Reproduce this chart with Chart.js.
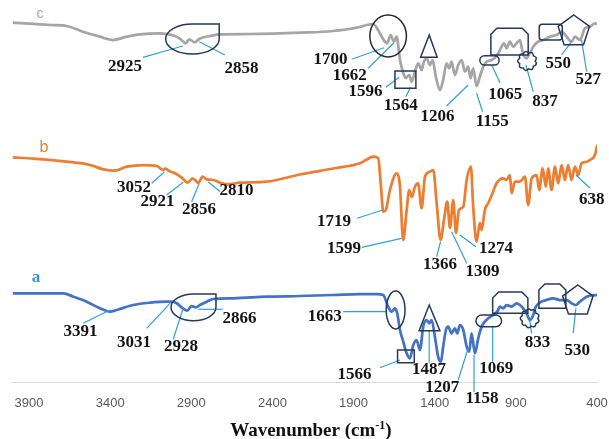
<!DOCTYPE html>
<html>
<head>
<meta charset="utf-8">
<script src="https://cdn.jsdelivr.net/npm/chart.js@4.4.1/dist/chart.umd.min.js"></script>
<style>
  html, body { margin: 0; padding: 0; background: #ffffff; overflow: hidden; }
  #wrap { width: 609px; height: 439px; }
</style>
</head>
<body>
<div id="wrap"><canvas id="ftir" width="609" height="439"></canvas></div>
<script>
// FTIR spectra of samples a, b and c (stacked, transmittance offset in a.u.)
const wavenumberTicks = [3900, 3400, 2900, 2400, 1900, 1400, 900, 400];

// trace c (grey, top)
const wnC = [4000,3771,3668,3568,3463,3381,3298,3216,3093,3052,2990,2964,2935,2913,2880,2847,2785,2723,2538,2227,2027,1861,1820,1779,1738,1717,1693,1672,1651,1635,1614,1594,1578,1557,1542,1522,1502,1481,1467,1450,1430,1413,1393,1368,1348,1327,1311,1296,1276,1255,1234,1214,1194,1179,1163,1142,1122,1101,1080,1049,1019,998,973,957,937,916,896,875,859,838,814,793,763,732,690,649,618,587,557,536,505,474,443,412,400];
const tC = [359.3,357,356,350.3,345.3,342,345.3,347.7,348.7,348,345.3,342.5,338.7,342.7,339.7,343.5,346,347.7,348,349.3,351,355,357,358,348.7,342.7,338.7,347,340.3,345.3,322,309,304,307,300.3,310.3,318.7,312,320.3,323.7,317,322,305.3,292,302,318.7,313.7,320.3,307,317,322,310.3,315.3,303.7,313.7,296,305.3,315.3,320.3,322,326,332,338.7,333.7,340.3,335.3,338.7,342,330.3,323.7,328.7,335.3,340.3,342,345.3,347,350.3,345.3,340.3,345.3,342,353.7,355.3,358.7,358];

// trace b (orange, middle)
const wnB = [4000,3874,3668,3524,3442,3370,3298,3196,3113,3073,3059,3042,3001,2959,2922,2892,2857,2830,2805,2765,2713,2672,2600,2436,2231,2025,1861,1824,1779,1748,1732,1717,1701,1676,1635,1615,1594,1573,1557,1541,1522,1502,1481,1460,1430,1409,1388,1364,1343,1323,1306,1286,1269,1251,1224,1203,1177,1163,1142,1122,1111,1091,1070,1048,1019,978,957,937,926,906,875,844,824,803,772,756,735,715,701,680,659,639,618,598,578,557,536,516,495,468,444,413,400];
const tB = [224.7,223.3,220.3,217,212.7,211.3,215.3,217,216,212,213.5,211.5,208.7,204.3,199.3,203.7,199.3,205.3,202.7,202,198.7,197.7,199.3,200.3,207.5,213.5,218.7,222,225.3,223.7,197,170.3,172,192,208.7,197,142,172,192,185,195.3,198.7,173.7,205.3,210.3,212,178.7,142,162,180.3,154,182,149,172,175.3,202,215.3,175.3,140.3,159,152,172,179,187,198.7,203.7,202,207,188.7,200.3,200.3,205.3,177,203.7,207,192,213.7,195.3,213.7,192,215.3,198.7,217,202,217,202,215.3,207,218.7,220,222,227,236];

// trace a (blue, bottom)
const wnA = [4000,3874,3689,3627,3545,3463,3401,3360,3258,3155,3052,3021,2990,2953,2925,2898,2871,2847,2805,2765,2641,2436,2231,2025,1861,1758,1717,1687,1666,1645,1631,1614,1594,1573,1553,1532,1512,1491,1471,1450,1434,1419,1399,1379,1362,1348,1331,1317,1296,1276,1261,1245,1224,1203,1187,1173,1152,1132,1111,1091,1070,1040,1015,998,978,957,926,896,875,855,834,814,797,777,742,711,670,629,587,557,530,506,464,424,400];
const tA = [88.7,88.7,88.7,85.3,80.3,73.7,70.3,72,77,79.3,80.3,80.3,78.7,73.7,71.3,76,74.7,77,80.3,83,83.7,85.3,86,87,88,88,87,75.3,70.3,73.7,68.7,52,40.3,28.7,23.7,37,42,32,55.3,62,58.7,62,45.3,25.3,20.3,35.3,52,55.3,48.7,53.7,48.7,57,52,35.3,30.3,48.7,28.7,43.7,55.3,60.3,63.7,67,70.3,75.3,73.7,77,75.3,78.7,77,73.7,68.7,62,65.3,75.3,80.3,82,83.7,82,82,78.7,77,80.3,85.3,87,87];

// assigned band positions (cm-1) for each trace
const peaksC = ['2925','2858','1700','1662','1596','1564','1206','1155','1065','837','550','527'];
const peaksB = ['3052','2921','2856','2810','1719','1599','1366','1309','1274','638'];
const peaksA = ['3391','3031','2928','2866','1663','1566','1487','1207','1158','1069','833','530'];

// where each band label sits, and its leader line (wavenumber, offset units)
const layoutC = [
  {at:[3309,315],   from:[3198,324.7], to:[2953,336]},
  {at:[2590,313.3], from:[2693,327],   to:[2851,340.3]},
  {at:[2043,322],   from:[1912,322.7], to:[1713,334.3]},
  {at:[1923,306],   from:[1810,313.7], to:[1651,339.3]},
  {at:[1826,290],   from:[1701,294.7], to:[1619,304.7]},
  {at:[1610,276],   from:[1578,285.3], to:[1549,294.7]},
  {at:[1383,265],   from:[1327,276],   to:[1194,297]},
  {at:[1045,260],   from:[1105,270.3], to:[1142,288.7]},
  {at:[965,287],    from:[998,299.3],  to:[1049,317]},
  {at:[721,280],    from:[793,290.3],  to:[838,317]},
  {at:[639,318],    from:[618,327],    to:[557,340.3]},
  {at:[454,302],    from:[464,310.3],  to:[495,342]}
];
const layoutB = [
  {at:[3253,194.5], from:[3144,198.7], to:[3068,209.7]},
  {at:[3109,180],   from:[3052,187],   to:[2950,199.7]},
  {at:[2853,172],   from:[2898,180.3], to:[2851,198.7]},
  {at:[2621,191],   from:[2723,190.3], to:[2796,200.3]},
  {at:[2021,160.3], from:[1878,163.7], to:[1721,172]},
  {at:[1959,133.7], from:[1850,134.7], to:[1604,143.7]},
  {at:[1368,117],   from:[1388,125.3], to:[1364,140.3]},
  {at:[1106,110.5], from:[1203,118.7], to:[1296,150.3]},
  {at:[1023,133.7], from:[1146,135.3], to:[1245,147]},
  {at:[432,182],    from:[444,194],    to:[530,207]}
];
const layoutA = [
  {at:[3583,50.3],  from:[3566,58.7],  to:[3401,72]},
  {at:[3253,39],    from:[3175,53.7],  to:[3021,80.3]},
  {at:[2964,35],    from:[3011,42.7],  to:[2953,72.7]},
  {at:[2603,63.7],  from:[2707,72.7],  to:[2857,72.7]},
  {at:[2077,65.3],  from:[1964,70.3],  to:[1693,70.3]},
  {at:[1894,7],     from:[1738,14.3],  to:[1614,22]},
  {at:[1436,12],    from:[1434,18.7],  to:[1434,51.3]},
  {at:[1353,-6],    from:[1255,2],     to:[1194,33.7]},
  {at:[1109,-17],   from:[1158,-10],   to:[1158,27]},
  {at:[1021,13.7],  from:[1043,20.3],  to:[1043,55.3]},
  {at:[767,39.5],   from:[803,48.7],   to:[814,62]},
  {at:[521,31],     from:[547,48.7],   to:[530,73.7]}
];

// outline markers grouping bands
const markersC = [
  {kind:'tear', x:[3058,2728], y:[358,328]},
  {kind:'ellipse', x:1687, y:346, rx:18.3, ry:21, stroke:'#2a2a2a'},
  {kind:'rect', x:[1645,1516], y:[311,293.7]},
  {kind:'triangle', pts:[[1434,347],[1487,324.7],[1385,324.7]]},
  {kind:'pill', x:[1122,1003], y:[326.3,317]},
  {kind:'chamfer', x:[1054,824], y:[353.7,327]},
  {kind:'cloud', x:830, y:321, r:8},
  {kind:'round', x:[756,614], y:[357.7,342]},
  {kind:'pentagon', x:543, y:350.5, r:16.5}
];
const markersA = [
  {kind:'tear', x:[3025,2748], y:[88,61.3]},
  {kind:'ellipse', x:1641, y:72, rx:9.4, ry:19},
  {kind:'rect', x:[1629,1526], y:[32,19.3]},
  {kind:'triangle', pts:[[1434,77],[1496,51.3],[1368,51.3]]},
  {kind:'pill', x:[1146,988], y:[67,55.3]},
  {kind:'chamfer', x:[1043,826], y:[90,68.7]},
  {kind:'cloud', x:814, y:63.7, r:8},
  {kind:'chamfer', x:[758,592], y:[98,73.7]},
  {kind:'pentagon', x:518, y:81, r:16}
];

const traceTags = [
  {text:'c', at:[3832,367.5], color:'#a5a5a5', font:'14px "Liberation Sans"'},
  {text:'b', at:[3808,234.5], color:'#ed7d31', font:'16px "Liberation Sans"'},
  {text:'a', at:[3857,104],   color:'#2f95dc', font:'bold 17px "Liberation Serif"'}
];

const zip = (xs, ys) => xs.map((x, i) => ({x: x, y: ys[i]}));

const NAVY = '#26385c';
const LEADER = '#2ea1da';

const bandAnnotations = {
  id: 'bandAnnotations',
  afterDatasetsDraw(chart) {
    const ctx = chart.ctx;
    const sx = chart.scales.x, sy = chart.scales.y;
    const X = w => sx.getPixelForValue(w);
    const Y = v => sy.getPixelForValue(v);
    ctx.save();

    // leader lines
    ctx.strokeStyle = LEADER;
    ctx.lineWidth = 1.2;
    [layoutC, layoutB, layoutA].forEach(list => list.forEach(l => {
      ctx.beginPath();
      ctx.moveTo(X(l.from[0]), Y(l.from[1]));
      ctx.lineTo(X(l.to[0]), Y(l.to[1]));
      ctx.stroke();
    }));

    // outline markers
    const drawMarker = m => {
      ctx.strokeStyle = m.stroke || NAVY;
      ctx.lineWidth = 1.5;
      ctx.beginPath();
      if (m.kind === 'rect' || m.kind === 'round' || m.kind === 'pill' || m.kind === 'chamfer' || m.kind === 'tear') {
        const x0 = X(m.x[0]), x1 = X(m.x[1]), y0 = Y(m.y[0]), y1 = Y(m.y[1]);
        const w = x1 - x0, h = y1 - y0;
        if (m.kind === 'rect') {
          ctx.rect(x0, y0, w, h);
        } else if (m.kind === 'round') {
          ctx.roundRect(x0, y0, w, h, 3);
        } else if (m.kind === 'pill') {
          ctx.roundRect(x0, y0, w, h, h / 2);
        } else if (m.kind === 'chamfer') {
          const c = 6;
          ctx.moveTo(x0, y1);
          ctx.lineTo(x0, y0 + c);
          ctx.lineTo(x0 + c, y0);
          ctx.lineTo(x1 - c, y0);
          ctx.lineTo(x1, y0 + c);
          ctx.lineTo(x1, y1);
          ctx.closePath();
        } else {
          const cx = (x0 + x1) / 2, cy = (y0 + y1) / 2;
          ctx.moveTo(cx, y0);
          ctx.lineTo(x1, y0);
          ctx.lineTo(x1, cy);
          ctx.ellipse(cx, cy, w / 2, h / 2, 0, 0, Math.PI * 1.5);
          ctx.closePath();
        }
      } else if (m.kind === 'ellipse') {
        ctx.ellipse(X(m.x), Y(m.y), m.rx, m.ry, 0, 0, Math.PI * 2);
      } else if (m.kind === 'triangle') {
        m.pts.forEach((p, i) => i ? ctx.lineTo(X(p[0]), Y(p[1])) : ctx.moveTo(X(p[0]), Y(p[1])));
        ctx.closePath();
      } else if (m.kind === 'pentagon') {
        const cx = X(m.x), cy = Y(m.y);
        for (let i = 0; i < 5; i++) {
          const a = -Math.PI / 2 + i * 2 * Math.PI / 5;
          const px = cx + m.r * Math.cos(a), py = cy + m.r * Math.sin(a);
          i ? ctx.lineTo(px, py) : ctx.moveTo(px, py);
        }
        ctx.closePath();
      } else if (m.kind === 'cloud') {
        const cx = X(m.x), cy = Y(m.y), n = 9;
        for (let i = 0; i <= n; i++) {
          const a = i * 2 * Math.PI / n;
          const px = cx + m.r * Math.cos(a), py = cy + m.r * Math.sin(a);
          if (i === 0) { ctx.moveTo(px, py); continue; }
          const am = a - Math.PI / n;
          ctx.quadraticCurveTo(cx + m.r * 1.45 * Math.cos(am), cy + m.r * 1.45 * Math.sin(am), px, py);
        }
        ctx.closePath();
      }
      ctx.stroke();
    };
    markersC.forEach(drawMarker);
    markersA.forEach(drawMarker);

    // band labels
    ctx.fillStyle = '#141414';
    ctx.font = 'bold 17px "Liberation Serif"';
    ctx.textAlign = 'center';
    ctx.textBaseline = 'middle';
    const labels = (names, layout) => names.forEach((t, i) => {
      const l = layout[i];
      ctx.fillText(t, X(l.at[0]), Y(l.at[1]));
    });
    labels(peaksC, layoutC);
    labels(peaksB, layoutB);
    labels(peaksA, layoutA);

    // trace letters
    traceTags.forEach(t => {
      ctx.font = t.font;
      ctx.fillStyle = t.color;
      ctx.fillText(t.text, X(t.at[0]), Y(t.at[1]));
    });

    ctx.restore();
  },
  afterDraw(chart) {
    // axis title with superscript unit
    const ctx = chart.ctx;
    const sx = chart.scales.x;
    const cx = (sx.left + sx.right) / 2 + 6;
    const by = sx.bottom - 3;
    ctx.save();
    ctx.fillStyle = '#111111';
    ctx.textBaseline = 'alphabetic';
    ctx.textAlign = 'left';
    const main = 'Wavenumber (cm', sup = '-1', close = ')';
    const fMain = 'bold 19px "Liberation Serif"', fSup = 'bold 12px "Liberation Serif"';
    ctx.font = fMain;
    const wMain = ctx.measureText(main).width, wClose = ctx.measureText(close).width;
    ctx.font = fSup;
    const wSup = ctx.measureText(sup).width;
    let x = cx - (wMain + wSup + wClose) / 2;
    ctx.font = fMain;
    ctx.fillText(main, x, by);
    x += wMain;
    ctx.font = fSup;
    ctx.fillText(sup, x, by - 7);
    x += wSup;
    ctx.font = fMain;
    ctx.fillText(close, x, by);
    ctx.restore();
  }
};

const lineStyle = color => ({
  borderColor: color,
  borderWidth: 2.75,
  pointRadius: 0,
  fill: false,
  cubicInterpolationMode: 'monotone',
  borderJoinStyle: 'round',
  borderCapStyle: 'round'
});

new Chart(document.getElementById('ftir'), {
  type: 'line',
  data: {
    datasets: [
      Object.assign({label: 'c', data: zip(wnC, tC)}, lineStyle('#a5a5a5')),
      Object.assign({label: 'b', data: zip(wnB, tB)}, lineStyle('#ed7d31')),
      Object.assign({label: 'a', data: zip(wnA, tA)}, lineStyle('#4472c4'))
    ]
  },
  options: {
    responsive: false,
    animation: false,
    devicePixelRatio: 1,
    layout: { padding: { left: 12.8, right: 12, top: 0, bottom: 0 } },
    plugins: { legend: { display: false }, tooltip: { enabled: false }, title: { display: false } },
    scales: {
      x: {
        type: 'linear',
        reverse: true,
        min: 400,
        max: 4000,
        afterBuildTicks: s => { s.ticks = wavenumberTicks.map(v => ({ value: v })); },
        afterFit: s => { s.height = 57; s.paddingLeft = 0; s.paddingRight = 0; },
        grid: { display: false, drawTicks: false },
        border: { display: true, color: '#d9d9d9', width: 1 },
        ticks: {
          color: '#595959',
          font: { family: '"Liberation Sans"', size: 13 },
          padding: 14,
          maxRotation: 0,
          autoSkip: false,
          callback: v => String(v)
        }
      },
      y: { display: false, min: 0, max: 382 }
    }
  },
  plugins: [bandAnnotations]
});
</script>
</body>
</html>
